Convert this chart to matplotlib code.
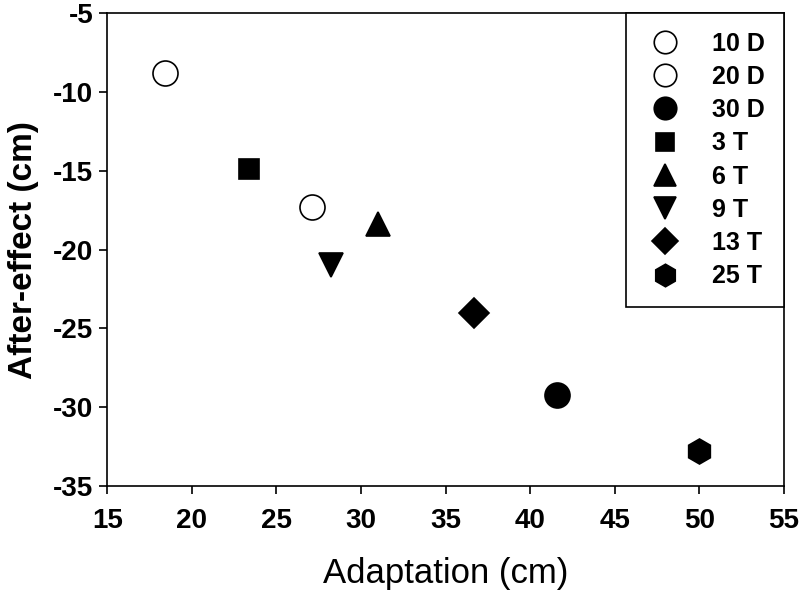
import matplotlib
matplotlib.use("Agg")
import matplotlib.pyplot as plt

# values
labels = ["10 D", "20 D", "30 D", "3 T", "6 T", "9 T", "13 T", "25 T"]
adaptation = [18.4, 27.1, 41.6, 23.4, 31.0, 28.2, 36.7, 50.0]
after_effect = [-8.8, -17.3, -29.2, -14.9, -18.4, -21.0, -24.0, -32.8]
markers = ["o", "o", "o", "s", "^", "v", "D", "h"]
filled = [False, False, True, True, True, True, True, True]
sizes = [18, 18, 18, 14, 17, 17, 15, 18]

plt.rcParams['font.family'] = ['Liberation Sans', 'DejaVu Sans']
plt.rcParams['axes.unicode_minus'] = False

fig = plt.figure(figsize=(8, 5.9), dpi=100)
ax = fig.add_axes([0.134, 0.176, 0.846, 0.802])

for lab, x, y, m, f, s in zip(labels, adaptation, after_effect, markers, filled, sizes):
    ax.plot([x], [y], linestyle="none", marker=m, markersize=s,
            markerfacecolor="black" if f else "white",
            markeredgecolor="black", markeredgewidth=1.2, label=lab)

ax.set_xlim(15, 55)
ax.set_ylim(-35, -5)
ax.set_xticks(range(15, 56, 5))
ax.set_yticks(range(-35, -4, 5))
ax.tick_params(direction="out", length=6, width=1.2, labelsize=20)
ax.tick_params(axis="x", pad=10)
ax.tick_params(axis="y", pad=4)
for t in ax.get_xticklabels() + ax.get_yticklabels():
    t.set_fontweight("bold")
for sp in ax.spines.values():
    sp.set_linewidth(1.2)

ax.set_xlabel("Adaptation (cm)", fontsize=25, labelpad=16)
ax.set_ylabel("After-effect (cm)", fontsize=24, fontweight="bold", labelpad=10)

leg = ax.legend(loc="upper right", borderaxespad=0, fancybox=False,
                edgecolor="black", framealpha=1,
                prop={"weight": "bold", "size": 18}, labelspacing=0.37,
                handletextpad=1.1, borderpad=0.75, markerscale=0.9,
                handlelength=1.6)
leg.get_frame().set_linewidth(1.2)

fig.savefig("out.png", dpi=100)
